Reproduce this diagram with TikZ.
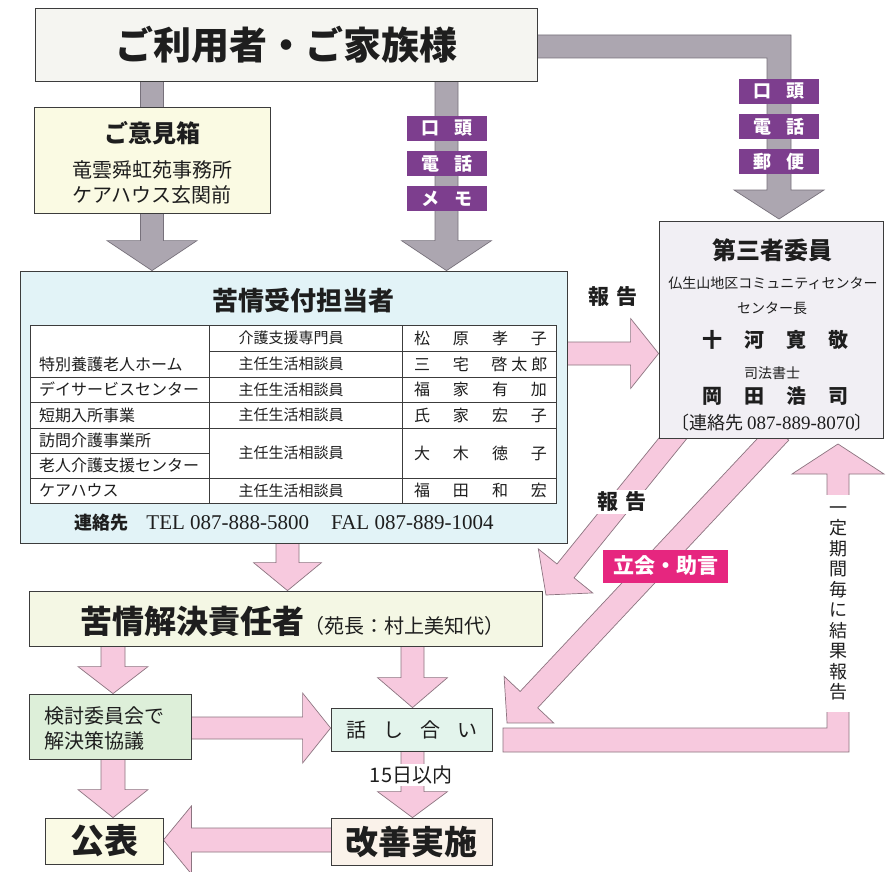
\documentclass[tikz,border=0pt]{standalone}
\usepackage{fontspec}
\setmainfont{Noto Sans CJK JP}
\newfontfamily\lat{Liberation Serif}
\usetikzlibrary{calc}
\pgfdeclarelayer{background}
\pgfsetlayers{background,main}
\definecolor{topF}{HTML}{F5F5F1}
\definecolor{ikenF}{HTML}{FAFAE3}
\definecolor{kujoF}{HTML}{E2F3F7}
\definecolor{thirdF}{HTML}{F1EFF4}
\definecolor{sekF}{HTML}{F4F7E4}
\definecolor{kentoF}{HTML}{DDEFD9}
\definecolor{hanaF}{HTML}{E3F4EC}
\definecolor{kohoF}{HTML}{FAFAE5}
\definecolor{kaizF}{HTML}{FAF2EA}
\definecolor{grayF}{HTML}{ACA6B0}
\definecolor{grayD}{HTML}{77717B}
\definecolor{pinkF}{HTML}{F7C9DE}
\definecolor{pinkD}{HTML}{8C7480}
\definecolor{purp}{HTML}{7D3E8E}
\definecolor{mag}{HTML}{E6267F}
\definecolor{lineC}{HTML}{3C3C3C}
\definecolor{textC}{HTML}{1E1E1E}
\newcommand\fs[1]{\fontsize{#1}{#1}\selectfont}
\newcommand\nm[4]{\makebox[39pt]{#1}\makebox[39pt]{#2}\makebox[39pt]{#3}\makebox[39pt]{#4}}
\newcommand\blockarr[6]{%
  \path #2; \pgfgetlastxy{\bax}{\bay}%
  \path #3; \pgfgetlastxy{\bbx}{\bby}%
  \pgfmathsetmacro\bang{atan2((\bby)-(\bay),(\bbx)-(\bax))}%
  \pgfmathsetmacro\blen{veclen((\bbx)-(\bax),(\bby)-(\bay))}%
  \pgfmathsetmacro\bbase{\blen-#6}%
  \begin{scope}[shift={(\bax,\bay)},rotate=\bang]
    \draw[#1] (0pt,-#4pt) -- (\bbase pt,-#4pt) -- (\bbase pt,-#5pt) -- (\blen pt,0pt)
      -- (\bbase pt,#5pt) -- (\bbase pt,#4pt) -- (0pt,#4pt) -- cycle;
  \end{scope}}
\begin{document}
\begin{tikzpicture}[x=1pt,y=-1pt,
  txt/.style={inner sep=0pt, text=textC},
  box/.style={draw=lineC, line width=0.8pt, inner sep=0pt, text=textC},
  plabel/.style={fill=purp, text=white, inner sep=0pt, minimum width=80pt, minimum height=25pt, font=\fs{18}\bfseries},
  wlabel/.style={fill=white, text=textC, inner sep=2pt},
  parr/.style={fill=pinkF, draw=pinkD, line width=0.7pt, line join=miter},
  garr/.style={fill=grayF, draw=grayD, line width=0.7pt, line join=miter},
  tab/.style={draw=lineC, line width=0.8pt}]
\useasboundingbox (0,0) rectangle (886,872);
\begin{pgfonlayer}{background}
\fill[white] (0,0) rectangle (886,872);
\end{pgfonlayer}

% ---- boxes
\node[box, fill=topF, minimum width=502pt, minimum height=73pt] (top) at (286,44.5) {\fs{38}\bfseries ご利用者・ご家族様};

\node[box, fill=ikenF, minimum width=236pt, minimum height=106pt] (iken) at (152,160) {};
\node[txt] (ikenT) at (152,133) {\fs{24}\bfseries ご意見箱};
\node[txt] (iken1) at (152,170) {\fs{20}竜雲舜虹苑事務所};
\node[txt] (iken2) at (152,195) {\fs{20}ケアハウス玄関前};

\node[plabel] (lm1) at (447,128.5) {口\hspace{16pt}頭};
\node[plabel] (lm2) at (447,163.5) {電\hspace{16pt}話};
\node[plabel] (lm3) at (447,198.5) {メ\hspace{16pt}モ};
\node[plabel] (lr1) at (779,91.5) {口\hspace{16pt}頭};
\node[plabel] (lr2) at (779,126.5) {電\hspace{16pt}話};
\node[plabel] (lr3) at (779,161.5) {郵\hspace{16pt}便};

\node[box, fill=kujoF, minimum width=547pt, minimum height=272pt] (kujo) at (293.5,407) {};
\node[txt] (kujoT) at (303,301) {\fs{26}\bfseries 苦情受付担当者};
\draw[tab, fill=white] (30,325) rectangle (556,503);
\draw[tab] (209,325) -- (209,503) (402,325) -- (402,503)
  (209,351) -- (556,351) (30,377) -- (556,377) (30,402) -- (556,402)
  (30,428) -- (556,428) (30,453) -- (209,453) (30,478) -- (556,478);
\node[txt, anchor=west] (c1a) at (39,364) {\fs{16}特別養護老人ホーム};
\node[txt, anchor=west] (c1b) at (39,389.5) {\fs{16}デイサービスセンター};
\node[txt, anchor=west] (c1c) at (39,415) {\fs{16}短期入所事業};
\node[txt, anchor=west] (c1d) at (39,440.5) {\fs{16}訪問介護事業所};
\node[txt, anchor=west] (c1e) at (39,465.5) {\fs{16}老人介護支援センター};
\node[txt, anchor=west] (c1f) at (39,490.5) {\fs{16}ケアハウス};
\node[txt] (c2a) at (291,338) {\fs{15}介護支援専門員};
\node[txt] (c2b) at (291,364) {\fs{15}主任生活相談員};
\node[txt] (c2c) at (291,389.5) {\fs{15}主任生活相談員};
\node[txt] (c2d) at (291,415) {\fs{15}主任生活相談員};
\node[txt] (c2e) at (291,453) {\fs{15}主任生活相談員};
\node[txt] (c2f) at (291,490.5) {\fs{15}主任生活相談員};
\node[txt] (c3a) at (480.5,338) {\fs{16}\nm{松}{原}{孝}{子}};
\node[txt] (c3b) at (480.5,364) {\fs{16}\makebox[39pt]{三}\makebox[39pt]{宅}\makebox[78pt]{啓\hspace{4pt}太\hspace{4pt}郎}};
\node[txt] (c3c) at (480.5,389.5) {\fs{16}\nm{福}{家}{有}{加}};
\node[txt] (c3d) at (480.5,415) {\fs{16}\nm{氏}{家}{宏}{子}};
\node[txt] (c3e) at (480.5,453) {\fs{16}\nm{大}{木}{徳}{子}};
\node[txt] (c3f) at (480.5,490.5) {\fs{16}\nm{福}{田}{和}{宏}};
\node[txt] (tel) at (284,523) {\fs{18}\bfseries 連絡先\hspace{18pt}\mdseries\lat\fs{21}TEL 087-888-5800\hspace{22pt}FAL 087-889-1004};

\node[box, fill=thirdF, minimum width=224pt, minimum height=217pt] (third) at (771,329.5) {};
\node[txt] (thT) at (772,250) {\fs{24}\bfseries 第三者委員};
\node[txt] (th1) at (773,283) {\fs{14}仏生山地区コミュニティセンター};
\node[txt] (th2) at (772,308) {\fs{14}センター長};
\node[txt] (th3) at (775,340) {\fs{20}\bfseries 十\hspace{22pt}河\hspace{22pt}寛\hspace{22pt}敬};
\node[txt] (th4) at (772,373) {\fs{14}司法書士};
\node[txt] (th5) at (775,396) {\fs{20}\bfseries 岡\hspace{22pt}田\hspace{22pt}浩\hspace{22pt}司};
\node[txt] (th6) at (772,423) {\fs{18}〔連絡先 {\lat\fs{19}087-889-8070}〕};

\node[txt] (rep1) at (613,297) {\fs{21}\bfseries 報\hspace{8pt}告};

\node[box, fill=sekF, minimum width=513pt, minimum height=55pt] (sekinin) at (285.5,618.5) {};
\node[txt] (sekT) at (292,621) {\fs{32}\bfseries 苦情解決責任者\fs{20}\mdseries（苑長：村上美知代）};

\node[box, fill=kentoF, minimum width=162pt, minimum height=65pt] (kento) at (110,726.5) {};
\node[txt, anchor=west, align=left, font=\fontsize{20}{25}\selectfont] (kentoT) at (44,728) {検討委員会で\\解決策協議};
\node[box, fill=hanaF, minimum width=161pt, minimum height=43pt] (hanashi) at (411.5,729.5) {\fs{20}話\hspace{17pt}し\hspace{17pt}合\hspace{17pt}い};
\node[box, fill=kohoF, minimum width=118pt, minimum height=46pt] (koho) at (104,841) {\fs{34}\bfseries 公表};
\node[box, fill=kaizF, minimum width=161pt, minimum height=47pt] (kaizen) at (411.5,841.5) {\fs{33}\bfseries 改善実施};

% ---- labels on arrows
\node[wlabel] (rep2) at (622,502) {\fs{21}\bfseries 報\hspace{8pt}告};
\node[fill=mag, text=white, inner sep=0pt, minimum width=125pt, minimum height=33pt] (tachi) at (665.5,566) {\fs{21}\bfseries 立会・助言};
\node[wlabel] (days) at (411,775) {\fs{20}15日以内};
\node[fill=white, text=textC, inner sep=0pt, minimum width=27pt, minimum height=217pt, align=center, font=\fontsize{18}{20.5}\selectfont] (vtext) at (838,603.5) {一\\定\\期\\間\\毎\\に\\結\\果\\報\\告};

% ---- connectors
\coordinate (xg2) at (446.5,0);
\coordinate (yp1) at (0,353.5);
\coordinate (xp4) at (287.5,0);
\coordinate (xL) at (113,0);
\coordinate (xR) at (412.5,0);
\coordinate (yk) at (0,728);
\coordinate (yb) at (0,840);
\coordinate (d1s) at (678,432);
\coordinate (d1e) at (546,595);
\coordinate (d2s) at (780,432);
\coordinate (d2e) at (507,723);
\begin{pgfonlayer}{background}
\blockarr{garr}{(iken.center |- top.center)}{(iken.center |- kujo.north)}{11.5}{45}{30}
\blockarr{garr}{(xg2 |- top.center)}{(xg2 |- kujo.north)}{11.5}{45}{30}
\draw[garr] (top.center |- 0,35) -- (791,35) -- (791,190) -- (824,190) -- (779,219)
  -- (734,190) -- (767,190) -- (767,58) -- (top.center |- 0,58) -- cycle;
\blockarr{parr}{(kujo.center |- yp1)}{(third.west |- yp1)}{11.5}{35}{28}
\blockarr{parr}{(d1s)}{(d1e)}{11}{35}{31}
\blockarr{parr}{(d2s)}{(d2e)}{12}{34}{32}
\draw[parr] (503,728) -- (827,728) -- (827,474) -- (792,474) -- (838,444)
  -- (884,474) -- (849,474) -- (849,752) -- (503,752) -- cycle;
\blockarr{parr}{(xp4 |- kujo.center)}{(xp4 |- sekinin.north)}{11.5}{34}{28}
\blockarr{parr}{(xL |- sekinin.center)}{(xL |- kento.north)}{12}{35}{27}
\blockarr{parr}{(xR |- sekinin.center)}{(xR |- hanashi.north)}{11.5}{35}{30}
\blockarr{parr}{(kento.center |- yk)}{(hanashi.west |- yk)}{11}{35}{28}
\blockarr{parr}{(xL |- kento.center)}{(xL |- koho.north)}{12}{35}{28}
\blockarr{parr}{(xR |- hanashi.center)}{(xR |- kaizen.north)}{11.5}{35}{26}
\blockarr{parr}{(kaizen.center |- yb)}{(koho.east |- yb)}{12}{34}{28}
\end{pgfonlayer}
\end{tikzpicture}
\end{document}
